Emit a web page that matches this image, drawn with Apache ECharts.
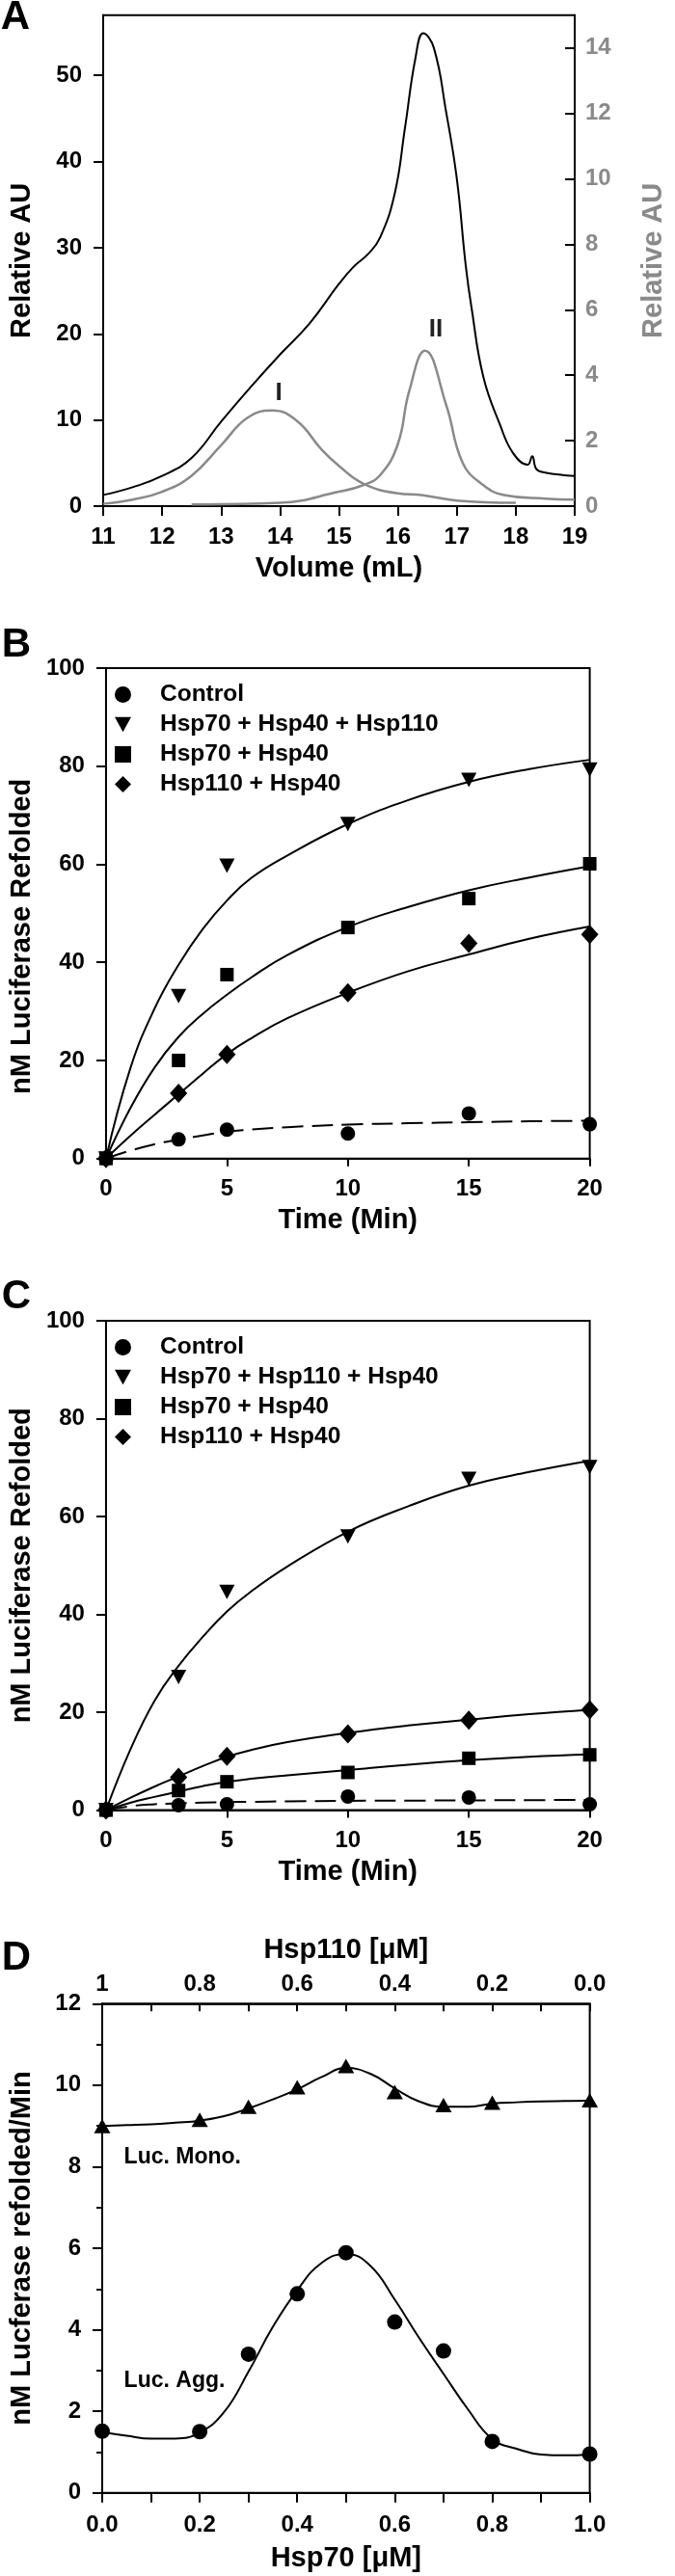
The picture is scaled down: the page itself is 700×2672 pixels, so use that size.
<!DOCTYPE html>
<html><head><meta charset="utf-8">
<script src="https://cdn.jsdelivr.net/npm/echarts@6/dist/echarts.min.js"></script>
<style>html,body{margin:0;padding:0;background:#fff}#c{width:700px;height:2672px}</style>
</head><body><div id="c"></div>
<script>
// ---------- Panel A : elution profile ----------
const volBlack = [11.0,11.5,12.0,12.5,13.0,13.5,14.0,14.5,15.0,15.25,15.5,15.7,15.95,16.12,16.3,16.43,16.61,16.82,17.0,17.15,17.25,17.45,17.73,17.95,18.2,18.28,18.35,18.5,19.0];
const auBlack  = [1.3,2.2,3.5,5.6,9.8,13.8,17.6,21.2,25.8,27.8,29.3,31.2,36.4,43.9,52.1,54.9,53.2,45.7,38.0,28.0,23.0,15.0,9.5,6.2,4.8,5.8,4.3,3.9,3.5];
const volPeakI = [11.0,11.5,12.0,12.5,13.0,13.45,13.87,14.29,14.71,15.0,15.41,16.0,16.4,17.0,18.0];
const auPeakI  = [0.07,0.2,0.44,0.93,1.86,2.7,2.92,2.6,1.72,1.23,0.69,0.39,0.34,0.17,0.1];
const volPeakII = [12.5,13.0,14.0,15.0,15.41,15.7,16.0,16.19,16.46,16.82,17.1,17.45,17.8,18.5,19.0];
const auPeakII  = [0.05,0.06,0.1,0.44,0.64,0.95,1.9,3.5,4.75,3.09,1.32,0.64,0.34,0.23,0.2];

// ---------- Panels B & C : refolding time course ----------
const timePts = [0,3,5,10,15,20];
const fitTimes = [0,1,2,3,4,5,6,7.5,10,12.5,15,17.5,20];
const bNames = ['Control','Hsp70 + Hsp40 + Hsp110','Hsp70 + Hsp40','Hsp110 + Hsp40'];
const bControl = [0,3.9,5.9,5.1,9.2,7.0];
const bTriple  = [0,33.1,59.7,68.2,77.2,79.3];
const b7040    = [0,20.0,37.5,47.1,53.0,60.1];
const b11040   = [0,13.3,21.2,33.8,43.9,45.7];
const bFitControl = [0,1.6,2.9,3.9,4.7,5.5,5.9,6.4,6.9,7.2,7.4,7.6,7.7];
const bFitTriple  = [0,18.3,30.5,39.5,46.8,52.6,57.2,61.8,68.2,73.1,76.8,79.4,81.3];
const bFit7040    = [0,10.2,18.5,24.8,29.5,33.4,36.9,41.5,47.2,51.3,54.7,57.3,59.6];
const bFit11040   = [0,4.6,8.9,13.1,17.3,21.3,24.5,28.6,33.8,38.2,41.6,44.8,47.3];

const cNames = ['Control','Hsp70 + Hsp110 + Hsp40','Hsp70 + Hsp40','Hsp110 + Hsp40'];
const cControl = [0,1.0,1.2,2.8,2.6,1.2];
const cTriple  = [0,27.2,44.6,55.9,67.7,70.1];
const c7040    = [0,4.0,5.8,7.7,10.6,11.3];
const c11040   = [0,6.7,11.0,15.6,18.4,20.5];
const cFitControl = [0,0.8,1.2,1.4,1.55,1.65,1.7,1.8,1.9,1.95,2.0,2.05,2.1];
const cFitTriple  = [0,12.3,22.3,29.5,35.4,40.6,44.7,49.8,56.9,62.1,66.3,69.1,71.4];
const cFit7040    = [0,1.5,2.7,3.8,4.9,5.8,6.4,7.1,8.2,9.3,10.2,10.9,11.4];
const cFit11040   = [0,2.5,4.8,6.9,9.0,10.9,12.3,13.9,15.8,17.3,18.5,19.6,20.5];

// ---------- Panel D : titration ----------
const hsp70Pts = [0,0.2,0.3,0.4,0.5,0.6,0.7,0.8,1.0];
const monoRate = [9.0,9.15,9.47,9.95,10.47,9.83,9.51,9.57,9.63];
const aggRate  = [1.51,1.50,3.40,4.88,5.89,4.19,3.48,1.26,0.95];
const hsp70Fit = [0,0.05,0.1,0.15,0.2,0.25,0.3,0.35,0.4,0.45,0.5,0.55,0.6,0.65,0.7,0.75,0.8,0.85,0.9,0.95,1.0];
const monoFit  = [9.0,9.02,9.04,9.08,9.13,9.24,9.43,9.65,9.9,10.2,10.42,10.28,9.92,9.6,9.47,9.47,9.55,9.58,9.6,9.61,9.62];
const aggFit   = [1.49,1.4,1.33,1.33,1.48,1.98,2.97,4.07,4.97,5.64,5.86,5.57,4.74,3.8,2.92,2.05,1.32,1.08,0.94,0.92,0.94];

// ---------- helpers ----------
const F = "'Liberation Sans', Arial, Helvetica, sans-serif";
const GRAY = '#8a8a8a';
const DOWN_TRI = 'path://M0,0L20,0L10,18Z';
const pairs = (xs, ys) => xs.map((x, i) => [x, ys[i]]);
const lab = (color) => ({fontFamily: F, fontSize: 24, fontWeight: 'bold', color: color || '#000'});
const ttl = (color, pad) => ({fontFamily: F, fontSize: 29, fontWeight: 'bold', color: color || '#000', padding: pad || 0});
const axLine = {show: true, onZero: false, lineStyle: {color: '#000', width: 2}};
const tick = (inside, len) => ({show: true, inside: !!inside, length: len || 10, lineStyle: {color: '#000', width: 2}});
const noSplit = {show: false};

function fitLine(name, xi, yi, xs, ys, dashed, color, width) {
  return {type: 'line', name: name, xAxisIndex: xi, yAxisIndex: yi, data: pairs(xs, ys),
    showSymbol: false, symbol: 'none', smooth: 0.45, clip: false, z: 2,
    lineStyle: {color: color || '#000', width: width || 2, type: dashed ? [22, 9] : 'solid'}};
}
function dots(name, xi, yi, xs, ys, symbol, size) {
  return {type: 'scatter', name: name, xAxisIndex: xi, yAxisIndex: yi, data: pairs(xs, ys),
    symbol: symbol, symbolSize: size, clip: false, z: 3,
    itemStyle: {color: '#000', opacity: 1}};
}
function timeX(gi) {
  return {gridIndex: gi, type: 'value', min: 0, max: 20, interval: 5, axisLine: axLine, axisTick: tick(false, 8),
    axisLabel: Object.assign(lab(), {margin: 20}), splitLine: noSplit,
    name: 'Time (Min)', nameLocation: 'middle', nameGap: 50, nameTextStyle: ttl()};
}
function pctY(gi, pad) {
  return {gridIndex: gi, type: 'value', min: 0, max: 100, interval: 20, axisLine: axLine, axisTick: tick(false, 10),
    axisLabel: Object.assign(lab(), {margin: 22}), splitLine: noSplit,
    name: 'nM Luciferase Refolded', nameLocation: 'middle', nameGap: 70, nameTextStyle: ttl('#000', pad)};
}
function legendAt(top, names) {
  const icons = ['circle', DOWN_TRI, 'rect', 'diamond'];
  return {data: names.map((n, i) => ({name: n, icon: icons[i]})), orient: 'vertical', left: 119, top: top,
    padding: 0, itemWidth: 17, itemHeight: 17, itemGap: 6, selectedMode: false,
    itemStyle: {color: '#000', opacity: 1},
    textStyle: {fontFamily: F, fontSize: 24.5, fontWeight: 'bold', color: '#000', lineHeight: 24.5, padding: [0, 0, 0, 25]}};
}
function txt(text, x, y, size, align, color) {
  return {type: 'text', style: {text: text, x: x, y: y, fontFamily: F, fontSize: size, fontWeight: 'bold',
    fill: color || '#000', align: align || 'center', verticalAlign: 'middle'}};
}

const gridBox = (top, h) => ({left: 103.6, top: top, width: 508, height: h, show: true,
  borderColor: '#000', borderWidth: 2, backgroundColor: 'transparent'});

const option = {
  animation: false,
  backgroundColor: '#fff',
  grid: [gridBox(15.7, 509.3), gridBox(693, 508.7), gridBox(1370, 507.6), gridBox(2078.3, 507.4)],
  xAxis: [
    {gridIndex: 0, type: 'value', min: 11, max: 19, interval: 1, axisLine: axLine, axisTick: tick(false, 10),
      axisLabel: Object.assign(lab(), {margin: 20}), splitLine: noSplit,
      name: 'Volume (mL)', nameLocation: 'middle', nameGap: 50, nameTextStyle: ttl()},
    timeX(1),
    timeX(2),
    {gridIndex: 3, type: 'value', min: 0, max: 1, interval: 0.1, axisLine: axLine, axisTick: tick(false, 10),
      axisLabel: Object.assign(lab(), {margin: 22,
        formatter: v => (Math.round(v * 10) % 2 === 0 ? v.toFixed(1) : '')}),
      splitLine: noSplit, name: 'Hsp70 [\u03bcM]', nameLocation: 'middle', nameGap: 54, nameTextStyle: ttl()},
    {gridIndex: 3, type: 'value', position: 'top', inverse: true, min: 0, max: 1, interval: 0.1,
      axisLine: axLine, axisTick: tick(true, 8),
      axisLabel: Object.assign(lab(), {margin: 8,
        formatter: v => (Math.round(v * 10) % 2 !== 0 ? '' : (Math.abs(v - 1) < 1e-9 ? '1' : v.toFixed(1)))}),
      splitLine: noSplit, name: 'Hsp110 [\u03bcM]', nameLocation: 'middle', nameGap: 41, nameTextStyle: ttl()}
  ],
  yAxis: [
    {gridIndex: 0, type: 'value', position: 'left', min: 0, max: 57, interval: 10, axisLine: axLine,
      axisTick: Object.assign(tick(false, 10), {customValues: [0, 10, 20, 30, 40, 50]}),
      axisLabel: Object.assign(lab(), {margin: 22, customValues: [0, 10, 20, 30, 40, 50],
        formatter: v => (v % 10 === 0 ? String(v) : '')}),
      splitLine: noSplit, name: 'Relative AU', nameLocation: 'middle', nameGap: 70, nameTextStyle: ttl()},
    {gridIndex: 0, type: 'value', position: 'right', min: 0, max: 15, interval: 2, axisLine: axLine,
      axisTick: Object.assign(tick(true, 10), {customValues: [0, 2, 4, 6, 8, 10, 12, 14]}),
      axisLabel: Object.assign(lab(GRAY), {margin: 11, customValues: [0, 2, 4, 6, 8, 10, 12, 14],
        formatter: v => (v % 2 === 0 ? String(v) : '')}),
      splitLine: noSplit, name: 'Relative AU', nameLocation: 'middle', nameGap: 67, nameTextStyle: ttl(GRAY)},
    pctY(1, [0, 48, 0, 0]),
    pctY(2, 0),
    {gridIndex: 3, type: 'value', min: 0, max: 12, interval: 2, axisLine: axLine, axisTick: tick(false, 10),
      minorTick: {show: true, splitNumber: 2, length: 6, lineStyle: {color: '#000', width: 2}},
      minorSplitLine: {show: false},
      axisLabel: Object.assign(lab(), {margin: 22}), splitLine: noSplit,
      name: 'nM Lucferase refolded/Min', nameLocation: 'middle', nameGap: 69, nameTextStyle: ttl()}
  ],
  legend: [legendAt(708, bNames), legendAt(1385, cNames)],
  series: [
    // A
    fitLine('Total', 0, 0, volBlack, auBlack, false, '#000', 2),
    fitLine('Peak I', 0, 1, volPeakI, auPeakI, false, GRAY, 2.5),
    fitLine('Peak II', 0, 1, volPeakII, auPeakII, false, GRAY, 2.5),
    // B
    fitLine('B fit control', 1, 2, fitTimes, bFitControl, true),
    fitLine('B fit triple', 1, 2, fitTimes, bFitTriple),
    fitLine('B fit 70+40', 1, 2, fitTimes, bFit7040),
    fitLine('B fit 110+40', 1, 2, fitTimes, bFit11040),
    dots(bNames[0], 1, 2, timePts, bControl, 'circle', 15),
    dots(bNames[1], 1, 2, timePts, bTriple, DOWN_TRI, [16, 15]),
    dots(bNames[2], 1, 2, timePts, b7040, 'rect', 14),
    dots(bNames[3], 1, 2, timePts, b11040, 'diamond', [18, 20]),
    // C
    fitLine('C fit control', 2, 3, fitTimes, cFitControl, true),
    fitLine('C fit triple', 2, 3, fitTimes, cFitTriple),
    fitLine('C fit 70+40', 2, 3, fitTimes, cFit7040),
    fitLine('C fit 110+40', 2, 3, fitTimes, cFit11040),
    dots(cNames[0], 2, 3, timePts, cControl, 'circle', 15),
    dots(cNames[1], 2, 3, timePts, cTriple, DOWN_TRI, [16, 15]),
    dots(cNames[2], 2, 3, timePts, c7040, 'rect', 14),
    dots(cNames[3], 2, 3, timePts, c11040, 'diamond', [18, 20]),
    // D
    fitLine('Mono fit', 3, 4, hsp70Fit, monoFit),
    fitLine('Agg fit', 3, 4, hsp70Fit, aggFit),
    dots('Luc. Mono.', 3, 4, hsp70Pts, monoRate, 'triangle', [17, 15]),
    dots('Luc. Agg.', 3, 4, hsp70Pts, aggRate, 'circle', 16)
  ],
  graphic: [
    txt('A', 16, 18, 42),
    txt('B', 17, 669, 42),
    txt('C', 17, 1345, 42),
    txt('D', 17, 2031, 42),
    txt('I', 289, 408, 26, 'center', '#222'),
    txt('II', 452, 342, 26, 'center', '#222'),
    txt('Luc. Mono.', 128.6, 2238, 23, 'left'),
    txt('Luc. Agg.', 128.6, 2470, 23, 'left')
  ]
};

const chart = echarts.init(document.getElementById('c'), null, {renderer: 'canvas'});
chart.setOption(option);
</script>
</body></html>
